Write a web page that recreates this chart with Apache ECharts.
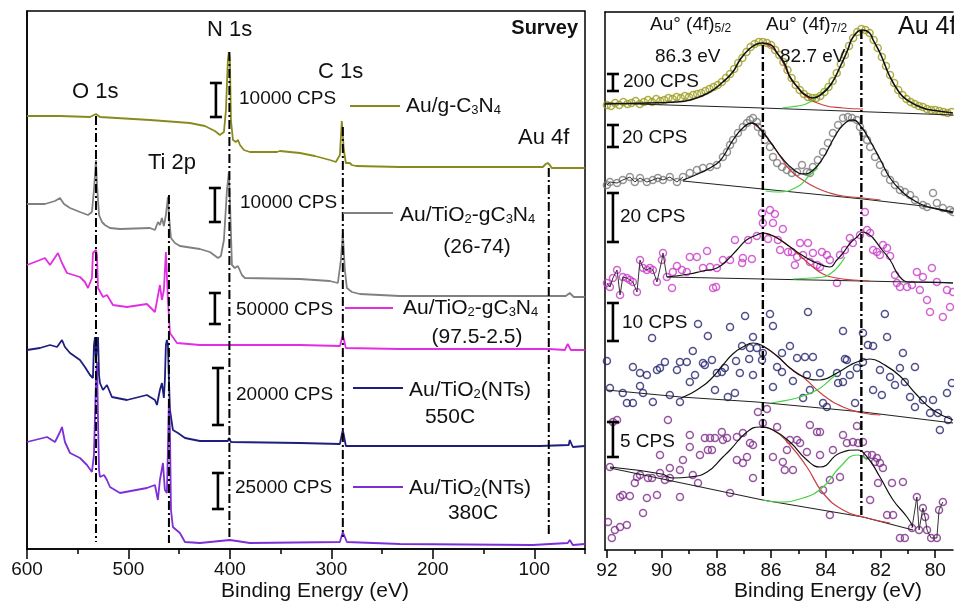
<!DOCTYPE html>
<html><head><meta charset="utf-8">
<script src="https://cdn.jsdelivr.net/npm/echarts@6/dist/echarts.min.js"></script>
<style>html,body{margin:0;padding:0;background:#fff}#c{width:954px;height:602px}</style>
</head><body><div id="c"></div><script>
// ---------------- Survey panel data: [binding energy (eV), stacked intensity (a.u.)]
var surveyOlive = [[600,433],[567.5,433],[537.9,432],[532,435],[528.1,432],[478.8,429],[439.4,426],[424.7,423],[414.8,418],[409.9,414],[405.9,417],[403.9,439],[402,489],[401,497],[400,489],[399,429],[397,409],[394.1,407],[392,409],[390.1,404],[386.2,399],[380.3,397],[353.7,397],[350.7,398],[331,396],[316.3,393],[301.5,389],[295.6,387],[291.6,394],[289.7,428],[287.7,399],[285.7,386],[281.8,386],[279.8,384],[275.8,383],[232.5,382],[134,382],[91.6,382],[88.7,385],[86.7,386],[84.7,384],[82.8,381],[50.3,381]];
var surveyGray = [[600,345],[582.3,345],[572.4,348],[567.5,351],[563.5,345],[557.6,341],[547.8,337],[539.9,334],[536,337],[534,359],[532,389],[531,364],[529,334],[526.1,327],[523.2,324],[518.2,321],[508.4,320],[478.8,321],[473.9,319],[470.9,327],[469,324],[467,331],[465.1,323],[463.1,334],[461.1,352],[460.1,334],[458.1,311],[454.2,306],[449.3,303],[429.6,300],[419.7,297],[411.8,291],[408.9,293],[405.9,309],[402.9,359],[401,377],[400,349],[398,284],[395.1,281],[392.1,283],[388.2,274],[385.2,271],[331,270],[301.5,268],[293.6,266],[290.6,289],[288.7,316],[286.7,279],[284.7,261],[279.8,257],[271.9,255],[232.5,253],[86.7,253],[69,253],[65,256],[61.1,252],[50.3,252]];
var surveyMagenta = [[600,284],[587.2,289],[582.3,291],[577.3,284],[569.5,296],[565.5,286],[560.6,276],[547.8,272],[542.9,267],[539.9,261],[536,271],[535,296],[532,299],[531,294],[530,261],[525.1,252],[521.2,254],[515.3,244],[501.5,242],[481.8,245],[473.9,237],[469,264],[467,249],[466,251],[465.1,259],[463.1,297],[462.1,299],[461.1,249],[459.1,216],[452.2,206],[429.6,204],[331,204],[291.6,203],[288.7,214],[285.7,201],[232.5,200],[84.7,200],[69.9,199],[67,205],[64,199],[50.3,199]];
var surveyNavy = [[600,199],[587.2,201],[577.3,204],[570.4,202],[565.5,209],[562.6,202],[557.6,196],[547.8,189],[542.9,182],[537.9,174],[535,171],[534,204],[533,212],[532,189],[531,204],[530,212],[529,174],[528.1,166],[525.1,159],[521.2,164],[516.3,152],[501.5,149],[481.8,154],[473.9,149],[471.9,144],[469,159],[467,166],[465.1,151],[464.1,169],[463.1,204],[462.1,209],[461.1,204],[460.1,169],[459.1,139],[456.2,119],[451.2,116],[449.3,117],[444.3,111],[429.6,108],[402,108],[401,111],[399,107],[331,106],[291.6,105],[288.7,119],[285.7,103],[232.5,103],[94.6,103],[66,104],[65,109],[62,102],[50.3,103]];
var surveyPurple = [[600,107],[580.3,112],[572.4,107],[567.5,117],[565.5,122],[562.6,107],[557.6,96],[547.8,91],[540.9,84],[536,77],[534,94],[532,169],[531,187],[530,129],[529,79],[528.1,72],[524.1,74],[521.2,69],[518.2,62],[508.4,56],[481.8,61],[473.9,64],[471,49],[469,69],[466,86],[464.1,59],[462.1,56],[461.1,99],[460.1,149],[459.1,119],[458.1,39],[456.2,22],[449.3,16],[444.3,7],[429.6,6],[400,9],[380.3,6],[291.6,7],[288.7,17],[284.7,7],[232.5,5],[101.5,4],[67,6],[65,9],[62,4],[50.3,5]];
// peak marker lines: [BE, top, bottom]
var surveyPeakLines = [[532,433,7],[460.1,354,6],[400.5,497,11],[288.7,422,12],[85.7,381,12]];
// scale bars: [BE, top, bottom]
var surveyScaleBars = [[413.8,466,432],[414.8,361,327],[414.8,256,225],[411.8,181,124],[411.8,76,40]];
var surveyMajorTicks = [100,200,300,400,500,600];
var surveyMinorTicks = [50,150,250,350,450,550];

// ---------------- Au 4f panel data
var au4fOliveDots = [[92.0,445],[91.85,444],[91.7,447],[91.55,445],[91.4,448],[91.25,446],[91.1,447],[90.95,449],[90.8,446],[90.65,448],[90.5,450],[90.35,448],[90.2,451],[90.05,449],[89.9,450],[89.75,452],[89.6,451],[89.45,453],[89.3,452],[89.15,454],[89.0,453],[88.85,455],[88.7,456],[88.55,457],[88.4,459],[88.25,461],[88.1,463],[87.95,465],[87.8,468],[87.65,472],[87.5,476],[87.35,481],[87.2,487],[87.05,492],[86.9,498],[86.75,503],[86.6,506],[86.45,508],[86.3,508],[86.15,507],[86.0,505],[85.85,500],[85.7,495],[85.55,488],[85.4,480],[85.25,472],[85.1,465],[84.95,460],[84.8,456],[84.65,453],[84.5,452],[84.35,452],[84.2,454],[84.05,458],[83.9,463],[83.75,469],[83.6,477],[83.45,486],[83.3,495],[83.15,504],[83.0,512],[82.85,518],[82.7,521],[82.55,520],[82.4,517],[82.25,510],[82.1,502],[81.95,493],[81.8,484],[81.65,475],[81.5,467],[81.35,460],[81.2,455],[81.05,451],[80.9,448],[80.75,446],[80.6,444],[80.45,443],[80.3,441],[80.15,440],[80.0,440],[79.85,439],[79.7,438],[79.55,437],[79.4,438]];
var au4fOliveFit = [[92.07,446],[90.5,447],[89.5,448],[88.97,450],[88.3,457],[87.76,468],[87.4,478],[87.14,490],[86.8,501],[86.52,506],[86.33,507],[86.0,505],[85.78,497],[85.5,486],[85.31,473],[85.0,462],[84.84,457],[84.47,452],[84.1,457],[83.8,466],[83.48,483],[83.2,500],[83.0,513],[82.64,520],[82.4,517],[82.27,510],[82.0,496],[81.65,473],[81.3,457],[81.03,450],[80.45,442],[79.9,439],[79.35,437]];
var au4fOliveBase = [[92.07,447],[86.3,442],[79.35,435]];
var au4fOliveRed = [[86.3,507],[85.78,497],[85.31,473],[85.05,463],[84.69,453],[84.1,445],[83.37,442],[82.64,441]];
var au4fOliveGreen = [[85.6,442],[85.31,443],[84.83,445],[84.58,448],[84.32,453],[84.1,458],[83.8,466]];

var au4fGrayLeft = [[92.0,365],[91.89,368],[91.63,367],[91.42,370],[91.16,373],[90.98,368],[90.79,372],[90.54,368],[90.32,370],[90.14,372],[89.95,370],[89.7,373],[89.44,368],[89.22,373]];
var au4fGrayDots = [[88.97,377],[88.71,380],[88.49,382],[88.23,383],[87.98,385],[87.76,393],[87.61,398],[87.5,405],[87.39,410],[87.21,417],[87.03,423],[86.88,427],[86.77,430],[86.66,432],[86.52,428],[86.48,423],[86.33,417],[86.22,410],[86.04,403],[85.93,393],[85.78,387],[85.6,383],[85.42,380],[85.24,377],[85.05,378],[84.87,385],[84.69,378],[84.58,377],[84.47,383],[84.29,390],[84.1,398],[83.92,407],[83.74,417],[83.55,425],[83.37,432],[83.19,433],[83.04,432],[82.86,430],[82.75,423],[82.64,417],[82.49,410],[82.38,403],[82.2,393],[82.02,385],[81.84,377],[81.65,370],[81.47,365],[81.29,360],[81.11,358],[80.92,355],[80.74,350],[80.45,345],[80.3,343],[80.08,357],[79.94,347],[79.72,342],[79.46,340],[79.35,338]];
var au4fGrayFit = [[89.22,370],[88.6,377],[88.0,386],[87.76,393],[87.39,410],[87.03,422],[86.7,427],[86.4,421],[86.0,407],[85.6,392],[85.2,381],[84.84,376],[84.5,379],[84.1,392],[83.7,412],[83.37,425],[83.0,430],[82.7,423],[82.4,410],[82.0,390],[81.65,372],[81.2,358],[80.8,350],[80.45,345],[79.9,341],[79.35,338]];
var au4fGrayBase = [[89.22,369],[86.3,361],[82.64,351],[80.45,344],[79.35,337]];
var au4fGrayRed = [[86.7,427],[86.4,421],[86.0,407],[85.6,391],[85.31,380],[84.84,370],[84.33,362],[83.85,357],[83.37,354],[82.64,352],[82.0,350]];
var au4fGrayGreen = [[86.2,359],[85.78,358],[85.05,363],[84.58,375],[84.3,382]];

var au4fMagentaLeft = [[92.0,267],[91.89,263],[91.78,272],[91.63,280],[91.52,255],[91.42,273],[91.27,272],[91.16,270],[91.05,268],[90.9,258],[90.79,290],[90.68,282],[90.54,280],[90.43,282],[90.32,280],[90.17,268],[89.99,290],[89.95,297],[89.81,273]];
var au4fMagentaDots = [[89.62,262],[89.59,278],[89.44,284],[89.26,280],[89.08,278],[88.97,293],[88.71,293],[88.49,282],[88.34,299],[88.23,283],[88.12,262],[88.01,263],[87.98,282],[87.76,290],[87.5,290],[87.32,310],[87.06,287],[87.03,292],[86.84,310],[86.7,291],[86.52,314],[86.33,337],[86.3,327],[86.11,311],[86.04,340],[85.93,327],[85.86,336],[85.75,310],[85.67,300],[85.57,321],[85.38,298],[85.24,298],[85.13,285],[85.05,293],[84.94,307],[84.83,295],[84.65,307],[84.58,288],[84.47,297],[84.32,285],[84.21,283],[84.14,298],[83.96,295],[83.85,290],[83.59,267],[83.48,295],[83.3,300],[83.12,312],[83.01,307],[82.75,315],[82.57,338],[82.49,320],[82.38,317],[82.27,300],[82.13,298],[82.02,295],[81.91,305],[81.76,302],[81.65,294],[81.47,275],[81.4,267],[81.29,263],[81.03,263],[80.85,265],[80.67,278],[80.56,260],[80.45,273],[80.3,250],[80.19,238],[80.12,282],[79.94,268],[79.72,233],[79.57,260],[79.46,243],[79.35,258]];
var au4fMagentaFit = [[89.81,273],[89.0,276],[88.5,279],[87.98,282],[87.6,290],[87.25,300],[86.9,310],[86.52,315],[86.3,317],[86.0,315],[85.78,312],[85.4,305],[85.05,298],[84.7,292],[84.33,287],[83.85,283],[83.6,290],[83.37,297],[83.1,307],[82.86,313],[82.64,318],[82.4,315],[82.27,312],[82.0,302],[81.65,290],[81.29,273],[80.92,268],[80.3,268],[79.35,267]];
var au4fMagentaBase = [[89.81,273],[86.3,271],[82.64,269],[79.35,267]];
var au4fMagentaRed = [[86.3,317],[85.78,312],[85.4,305],[85.05,297],[84.6,286],[84.1,276],[83.6,272],[83.0,270],[82.4,269]];
var au4fMagentaGreen = [[85.2,271],[84.5,272],[84.1,273],[83.8,277],[83.5,285],[83.3,293]];

var au4fNavyDots = [[86.95,234],[86.04,236],[84.65,238],[81.84,236],[88.67,226],[87.5,223],[85.93,224],[90.35,212],[83.37,219],[82.64,217],[81.76,213],[86.66,213],[88.31,214],[88.86,199],[87.06,204],[86.77,202],[86.52,202],[86.3,197],[85.31,204],[85.6,197],[85.05,192],[84.76,193],[84.47,193],[83.3,191],[82.64,188],[82.46,205],[82.27,204],[81.18,197],[89.88,188],[89.33,188],[89.08,188],[88.49,187],[88.16,190],[87.28,189],[86.8,191],[92.0,189],[91.05,183],[90.79,177],[90.54,175],[90.17,180],[90.06,182],[89.44,180],[88.78,175],[88.42,185],[87.8,178],[87.69,182],[87.14,177],[86.66,175],[86.33,190],[85.78,183],[85.6,178],[84.69,175],[84.21,177],[83.59,177],[83.23,190],[82.86,182],[82.02,180],[81.29,182],[80.74,183],[88.97,168],[87.98,177],[85.2,169],[83.55,167],[83.37,168],[83.12,175],[91.89,162],[91.42,157],[90.79,164],[90.68,157],[91.27,147],[91.05,147],[90.32,148],[89.7,155],[89.33,148],[88.05,160],[87.58,153],[87.32,157],[85.93,163],[84.83,152],[84.58,160],[84.1,147],[83.96,143],[82.93,147],[82.27,160],[81.95,155],[81.65,173],[81.47,165],[81.11,168],[80.92,153],[80.74,143],[80.45,150],[80.08,150],[79.57,157],[79.39,167],[80.19,137],[79.83,120],[79.9,137],[79.53,130]];
var au4fNavyFit = [[89.3,152],[88.97,156],[88.6,162],[88.23,170],[87.76,185],[87.4,196],[87.03,203],[86.66,207],[86.3,204],[85.78,194],[85.31,182],[84.8,173],[84.21,170],[83.59,177],[83.1,185],[82.86,188],[82.38,191],[81.91,186],[81.29,174],[80.67,155],[80.08,140],[79.35,130]];
var au4fNavyBase = [[92.0,160],[89.3,153],[86.52,148],[82.64,138],[79.35,127]];
var au4fNavyRed = [[86.3,204],[85.78,194],[85.31,182],[84.83,173],[84.1,155],[83.37,143],[82.64,137],[82.0,135]];
var au4fNavyGreen = [[86.0,147],[85.78,148],[85.05,152],[84.32,160],[83.85,170],[83.59,177]];

var au4fPurpleDots = [[86.3,127],[86.48,138],[86.15,141],[85.78,123],[84.58,125],[84.32,118],[84.21,118],[82.86,124],[83.37,115],[88.97,115],[88.42,112],[88.23,112],[88.05,112],[87.8,118],[87.61,112],[87.25,113],[87.03,117],[86.77,107],[86.66,105],[87.25,90],[86.88,93],[87.03,87],[86.66,72],[85.93,93],[85.42,100],[85.31,110],[85.05,110],[84.94,107],[84.69,98],[84.21,95],[83.74,100],[83.23,107],[83.01,108],[82.82,107],[82.64,108],[82.49,95],[82.31,95],[82.13,92],[82.02,87],[81.91,82],[82.2,88],[85.57,88],[85.5,80],[85.2,80],[84.1,60],[83.85,70],[83.48,73],[83.85,35],[82.38,50],[82.09,67],[81.76,35],[81.54,35],[81.58,67],[81.18,68],[81.29,12],[81.11,12],[90.79,75],[90.5,72],[90.35,72],[90.06,77],[89.88,70],[89.7,72],[89.33,80],[88.86,75],[88.67,67],[87.5,57],[89.33,53],[90.17,55],[90.54,52],[91.52,53],[91.42,55],[91.16,54],[90.98,67],[90.9,73],[89.7,82],[90.06,95],[89.77,130],[88.97,103],[89.22,90],[88.6,95],[88.31,100],[88.16,100],[87.76,110],[90.68,37],[91.52,23],[91.27,25],[91.71,20],[91.82,12],[91.96,28],[91.89,83],[91.63,130],[91.78,128]];
var au4fPurpleRight = [[80.85,22],[80.67,53],[80.59,20],[80.45,42],[80.37,33],[80.3,20],[80.15,12],[79.94,12],[79.86,40],[79.72,48]];
var au4fPurpleFit = [[91.89,83],[90.0,76],[89.59,72],[88.97,73],[88.34,78],[87.76,93],[87.5,100],[86.88,118],[86.41,123],[85.93,120],[85.31,108],[84.69,90],[84.21,83],[83.48,97],[82.86,100],[82.49,93],[82.02,73],[81.54,50],[81.03,33],[80.81,23]];
var au4fPurpleBase = [[91.89,82],[86.3,50],[82.64,33],[80.81,20]];
var au4fPurpleRed = [[86.41,123],[85.93,120],[85.31,105],[84.69,83],[84.1,57],[83.37,40],[82.64,33],[81.65,27]];
var au4fPurpleGreen = [[86.3,50],[85.78,48],[84.83,52],[84.1,63],[83.48,83],[82.86,95],[82.49,90]];

var au4fPeakLines = [[86.3,505,52],[82.7,520,32]];
var au4fScaleBars = [[91.78,476,459],[91.78,425,403],[91.78,357,308],[91.78,247,209],[91.78,128,93]];
var au4fMajorTicks = [80,82,84,86,88,90,92];
var au4fMinorTicks = [81,83,85,87,89,91];

var seriesNames = ['Au/g-C{s|3}N{s|4}','Au/TiO{s|2}-gC{s|3}N{s|4}','Au/TiO{s|2}-gC{s|3}N{s|4}','Au/TiO{s|2}(NTs)','Au/TiO{s|2}(NTs)'];
var seriesNotes = ['','(26-74)','(97.5-2.5)','550C','380C'];
var surveyScaleText = ['10000 CPS','10000 CPS','50000 CPS','20000 CPS','25000 CPS'];
var au4fScaleText = ['200 CPS','20 CPS','20 CPS','10 CPS','5 CPS'];
var surveyColors = ['#8a8a1c','#808080','#e22ee2','#1e1e7e','#7e2ed6'];
var dotColors = ['#9c9c1e','#7a7a7a','#c83cc8','#23236e','#7d2a8a'];

var FF = "'Liberation Sans', Arial, Helvetica, sans-serif";
var RED = '#c84040', GREEN = '#44d444';

function line(xi, yi, data, color, width, smooth, z){
  return {type:'line', xAxisIndex:xi, yAxisIndex:yi, data:data, symbol:'none', smooth:smooth||false,
    lineStyle:{color:color, width:width}, z:z||3, animation:false, silent:true};
}
function dots(data, color){
  return {type:'scatter', xAxisIndex:2, yAxisIndex:1, data:data, symbol:'circle', symbolSize:7,
    itemStyle:{color:'rgba(255,255,255,0)', borderColor:color, borderWidth:1.5}, z:2, animation:false, silent:true};
}
function bars(xi, yi, data){
  return {type:'custom', xAxisIndex:xi, yAxisIndex:yi, data:data, silent:true, z:6, animation:false,
    encode:{x:0, y:[1,2]},
    renderItem:function(params, api){
      var t = api.coord([api.value(0), api.value(1)]);
      var b = api.coord([api.value(0), api.value(2)]);
      var w = 6, st = {stroke:'#000', lineWidth:2.6};
      return {type:'group', children:[
        {type:'line', shape:{x1:t[0],y1:t[1],x2:b[0],y2:b[1]}, style:st},
        {type:'line', shape:{x1:t[0]-w,y1:t[1],x2:t[0]+w,y2:t[1]}, style:st},
        {type:'line', shape:{x1:b[0]-w,y1:b[1],x2:b[0]+w,y2:b[1]}, style:st}]};
    }};
}
function vlines(xi, yi, data, width){
  return {type:'custom', xAxisIndex:xi, yAxisIndex:yi, data:data, silent:true, z:5, animation:false,
    encode:{x:0, y:[1,2]},
    renderItem:function(params, api){
      var t = api.coord([api.value(0), api.value(1)]);
      var b = api.coord([api.value(0), api.value(2)]);
      return {type:'line', shape:{x1:t[0],y1:t[1],x2:b[0],y2:b[1]},
        style:{stroke:'#000', lineWidth:width, lineDash:[9,3,2,3]}};
    }};
}
function txt(x, y, s, size, align, weight){
  return {type:'text', x:x, y:y, z:100, silent:true, style:{text:s, fill:'#111', fontSize:size, fontFamily:FF,
    fontWeight:weight||'normal', align:align||'left', verticalAlign:'middle',
    rich:{s:{fontSize:Math.round(size*0.62), fontFamily:FF, fill:'#111', verticalAlign:'bottom', padding:[0,0,0,0]}}}};
}
function swatch(x1, x2, y, color){
  return {type:'line', z:100, silent:true, shape:{x1:x1,y1:y,x2:x2,y2:y}, style:{stroke:color, lineWidth:2}};
}

var axisLineStyle = {color:'#000', width:1.5};
function xMain(grid, min, max, ticks, len){
  return {type:'value', gridIndex:grid, min:min, max:max, inverse:true, position:'bottom',
    axisLine:{show:true, onZero:false, lineStyle:axisLineStyle},
    axisTick:{show:true, customValues:ticks, length:len, lineStyle:axisLineStyle},
    axisLabel:{show:true, customValues:ticks, fontSize:19, color:'#111', fontFamily:FF, margin:11},
    splitLine:{show:false}};
}
function xMinor(grid, min, max, ticks, len){
  return {type:'value', gridIndex:grid, min:min, max:max, inverse:true, position:'bottom', offset:0,
    axisLine:{show:false, onZero:false},
    axisTick:{show:true, customValues:ticks, length:len, lineStyle:axisLineStyle},
    axisLabel:{show:false}, splitLine:{show:false}};
}
function xTopLine(grid, min, max){
  return {type:'value', gridIndex:grid, min:min, max:max, inverse:true, position:'top',
    axisLine:{show:true, onZero:false, lineStyle:axisLineStyle}, axisTick:{show:false}, axisLabel:{show:false}, splitLine:{show:false}};
}
function yAx(grid){
  return {type:'value', gridIndex:grid, min:0, max:538,
    axisLine:{show:true, lineStyle:axisLineStyle}, axisTick:{show:false}, axisLabel:{show:false}, splitLine:{show:false}};
}

var graphics = [];
graphics.push(txt(72,92,'O 1s',22), txt(207,30,'N 1s',22), txt(318,72,'C 1s',22), txt(148,163,'Ti 2p',22), txt(518,138,'Au 4f',22));
graphics.push(txt(578,28,'Survey',20,'right','bold'));
var cpsPos = [[239,99],[240,203],[236,310],[236,395],[235,488]];
surveyScaleText.forEach(function(s,i){ graphics.push(txt(cpsPos[i][0],cpsPos[i][1],s,19)); });
var legPos = [[406,106],[400,215],[403,308],[409,390],[409,488]];
var notePos = [[0,0],[477,247],[477,337],[450,417],[473,513]];
var swPos = [[350,400,106],[343,393,213],[345,393,308],[353,403,388],[353,403,487]];
seriesNames.forEach(function(s,i){
  graphics.push(txt(legPos[i][0],legPos[i][1],s,21));
  if (seriesNotes[i]) graphics.push(txt(notePos[i][0],notePos[i][1],seriesNotes[i],21,'center'));
  graphics.push(swatch(swPos[i][0],swPos[i][1],swPos[i][2],surveyColors[i]));
});
graphics.push(txt(650,25,'Au° (4f){s|5/2}',19), txt(655,57,'86.3 eV',19), txt(766,25,'Au° (4f){s|7/2}',19), txt(780,57,'82.7 eV',19), txt(898,27,'Au 4f',25));
var cps2Pos = [[623,82],[622,138],[620,217],[622,323],[620,442]];
au4fScaleText.forEach(function(s,i){ graphics.push(txt(cps2Pos[i][0],cps2Pos[i][1],s,19)); });
graphics.push(txt(315,591,'Binding Energy (eV)',21,'center'), txt(828,591,'Binding Energy (eV)',21,'center'));

var series = [
  line(0,0,surveyOlive,surveyColors[0],1.8), line(0,0,surveyGray,surveyColors[1],1.8),
  line(0,0,surveyMagenta,surveyColors[2],1.8), line(0,0,surveyNavy,surveyColors[3],1.8),
  line(0,0,surveyPurple,surveyColors[4],1.8),
  vlines(0,0,surveyPeakLines,2), bars(0,0,surveyScaleBars),
  dots(au4fOliveDots,dotColors[0]), dots(au4fGrayLeft.concat(au4fGrayDots),dotColors[1]),
  dots(au4fMagentaLeft.concat(au4fMagentaDots),dotColors[2]), dots(au4fNavyDots,dotColors[3]),
  dots(au4fPurpleDots.concat(au4fPurpleRight),dotColors[4]),
  line(2,1,au4fOliveBase,'#222',1.1), line(2,1,au4fOliveRed,RED,1.2,true), line(2,1,au4fOliveGreen,GREEN,1.2,true), line(2,1,au4fOliveFit,'#111',1.6,true,4),
  line(2,1,au4fGrayLeft,'#333',1), line(2,1,au4fGrayBase,'#222',1.1), line(2,1,au4fGrayRed,RED,1.2,true), line(2,1,au4fGrayGreen,GREEN,1.2,true), line(2,1,au4fGrayFit,'#111',1.3,true,4),
  line(2,1,au4fMagentaLeft,'#333',1), line(2,1,au4fMagentaBase,'#222',1.1), line(2,1,au4fMagentaRed,RED,1.2,true), line(2,1,au4fMagentaGreen,GREEN,1.2,true), line(2,1,au4fMagentaFit,'#111',1.2,true,4),
  line(2,1,au4fNavyBase,'#222',1.1), line(2,1,au4fNavyRed,RED,1.2,true), line(2,1,au4fNavyGreen,GREEN,1.2,true), line(2,1,au4fNavyFit,'#111',1.2,true,4),
  line(2,1,au4fPurpleRight,'#333',1), line(2,1,au4fPurpleBase,'#222',1.1), line(2,1,au4fPurpleRed,RED,1.2,true), line(2,1,au4fPurpleGreen,GREEN,1.2,true), line(2,1,au4fPurpleFit,'#111',1.2,true,4),
  vlines(2,1,au4fPeakLines,2.4), bars(2,1,au4fScaleBars)
];

var chart = echarts.init(document.getElementById('c'), null, {renderer:'canvas'});
chart.setOption({
  animation:false,
  backgroundColor:'#fff',
  grid:[
    {left:27, top:11, width:558, height:538, show:true, borderColor:'#000', borderWidth:1.5},
    {left:605, top:12, width:348, height:538, show:false}
  ],
  xAxis:[ xMain(0,50,600,surveyMajorTicks,10), xMinor(0,50,600,surveyMinorTicks,5),
          xMain(1,79.35,92.07,au4fMajorTicks,8), xMinor(1,79.35,92.07,au4fMinorTicks,4),
          xTopLine(1,79.35,92.07) ],
  yAxis:[ yAx(0), yAx(1) ],
  series: series,
  graphic: graphics
});
</script></body></html>
